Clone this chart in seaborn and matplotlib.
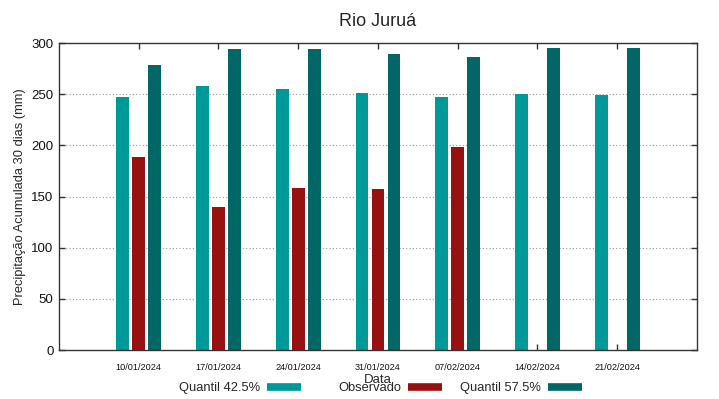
import numpy as np
import pandas as pd
import matplotlib
matplotlib.use("Agg")
import matplotlib.pyplot as plt
from matplotlib.lines import Line2D
import seaborn as sns

datas = ['10/01/2024', '17/01/2024', '24/01/2024', '31/01/2024',
         '07/02/2024', '14/02/2024', '21/02/2024']
quantil_425 = [247.5, 257.7, 255.4, 250.8, 247.0, 249.8, 249.2]
observado = [188.6, 140.0, 158.0, 157.0, 198.4, np.nan, np.nan]
quantil_575 = [279.0, 293.8, 294.5, 289.0, 286.6, 295.1, 295.1]
series = ['Quantil 42.5%', 'Observado', 'Quantil 57.5%']
cores = ['#009999', '#991010', '#006666']

df = pd.DataFrame({
    'Data': datas * 3,
    'Serie': [series[0]] * 7 + [series[1]] * 7 + [series[2]] * 7,
    'Valor': quantil_425 + observado + quantil_575,
})

sns.set_style("ticks")
plt.rcParams['font.family'] = ['Liberation Sans', 'DejaVu Sans']

fig = plt.figure(figsize=(7.19, 3.99), dpi=100)
ax = fig.add_axes([0.082, 0.1228, 0.8874, 0.7694])

sns.barplot(data=df, x='Data', y='Valor', hue='Serie', hue_order=series,
            palette=cores, errorbar=None, width=0.6, gap=0.2,
            linewidth=0, saturation=1, ax=ax, legend=False)

ax.set_xlim(-1, 7)
ax.set_ylim(0, 300)
ax.set_yticks(range(0, 301, 50))
for y in range(50, 300, 50):
    ax.axhline(y, color='#999999', linestyle=(0, (1, 2)), linewidth=0.8, zorder=0)

for s in ax.spines.values():
    s.set_linewidth(1)
    s.set_color('#333333')
    s.set_visible(True)
ax.tick_params(direction='in', top=True, right=True, length=4, width=1, color='#333333')
ax.tick_params(axis='x', labelsize=6.6, pad=9, labelcolor='#111111')
ax.tick_params(axis='y', labelsize=9.5, pad=4, labelcolor='#111111')

ax.set_title('Rio Juruá', fontsize=13, pad=12)
ax.set_ylabel('Precipitação Acumulada 30 dias (mm)', fontsize=9.3, labelpad=4)
ax.set_xlabel('Data', fontsize=9.5, labelpad=2)

# gnuplot-style key: text right-aligned, sample after the text
right_edges = [301 / 719, 442 / 719, 582 / 719]
for nome, cor, xr in zip(series, cores, right_edges):
    h = Line2D([0], [0], color=cor, linewidth=5.5, solid_capstyle='butt')
    leg = fig.legend(handles=[h], labels=[nome], loc='center right',
                     bbox_to_anchor=(xr, 1 - 388 / 399), frameon=False,
                     markerfirst=False, handlelength=2.6, handletextpad=0.55,
                     borderpad=0, borderaxespad=0, fontsize=9.3)

fig.savefig('out.png', dpi=100)
